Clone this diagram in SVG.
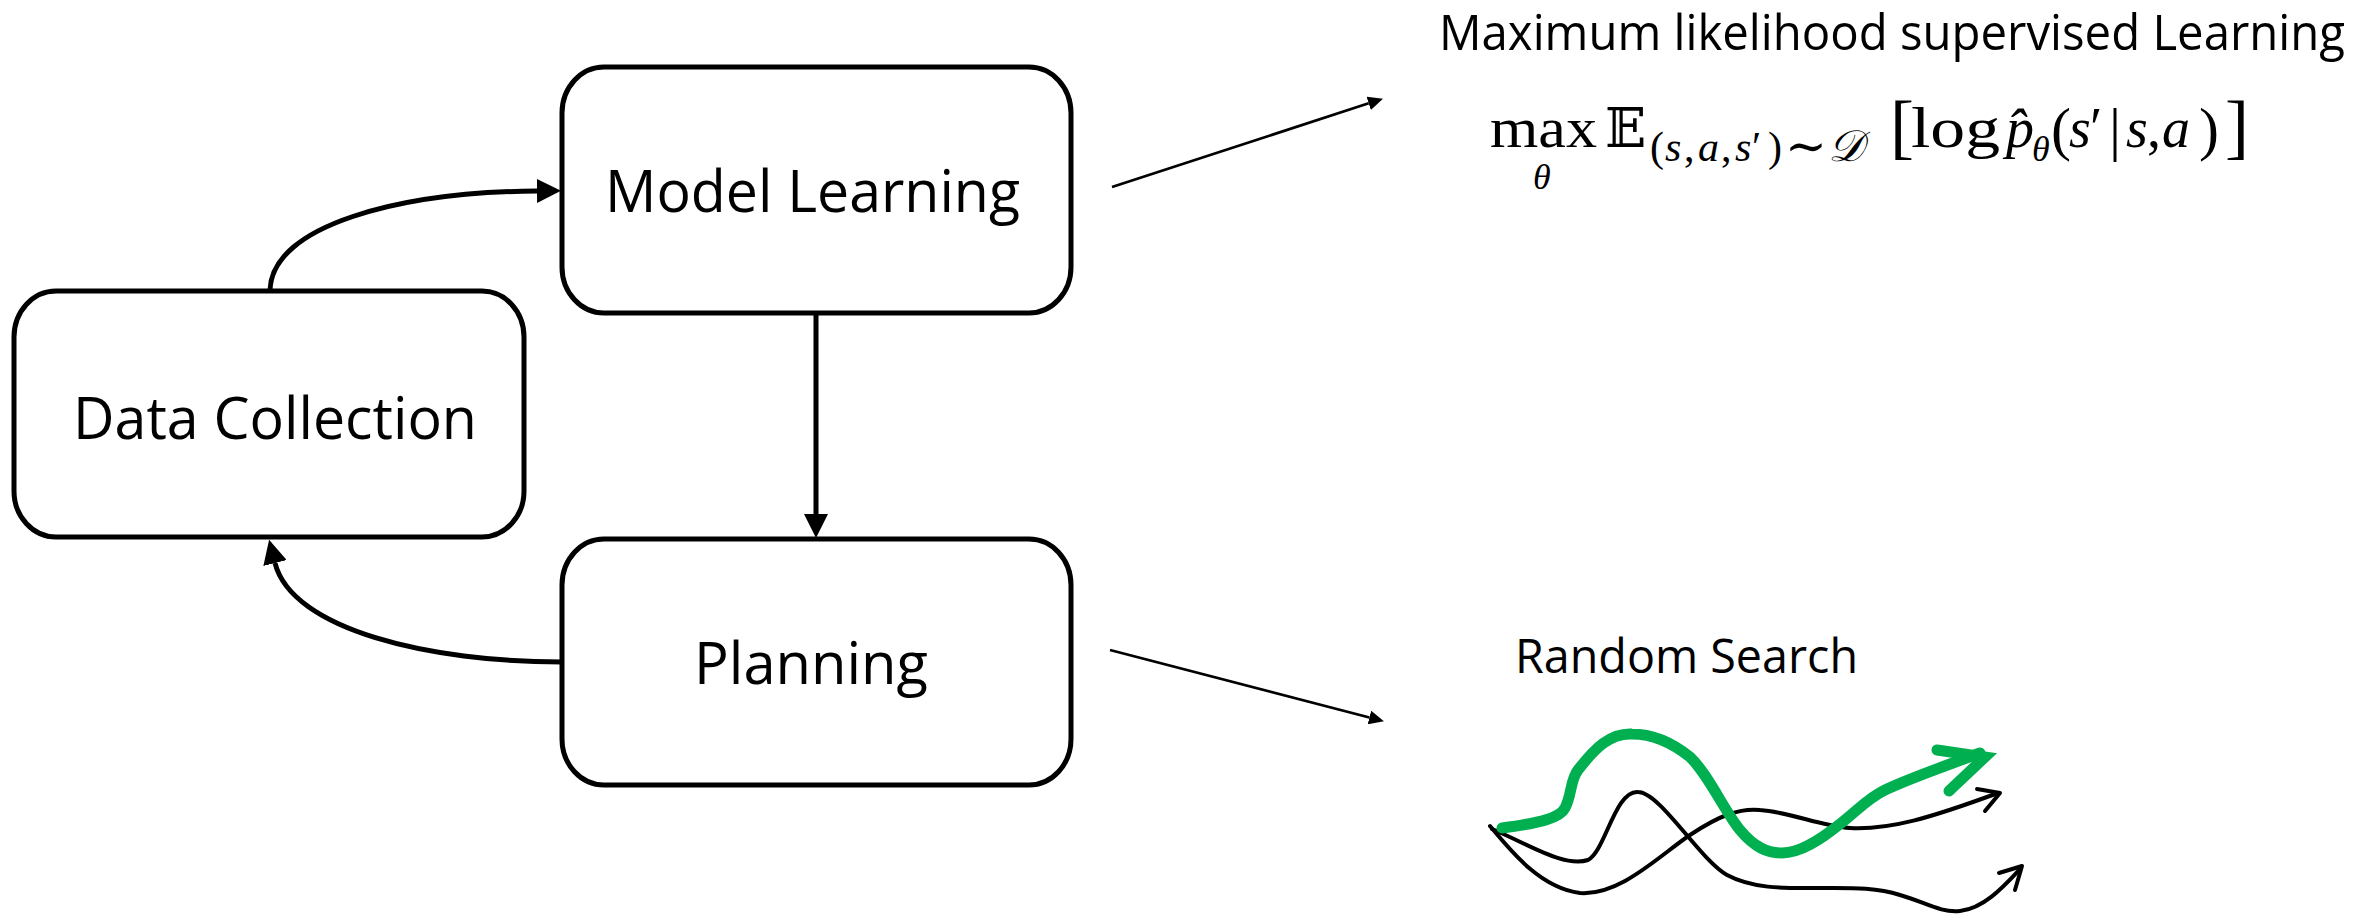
<svg xmlns="http://www.w3.org/2000/svg" width="2377" height="916" viewBox="0 0 2377 916">
  <style>
    .box { fill: #ffffff; stroke: #000000; stroke-width: 5; }
    .label { font-family: "Open Sans", "Liberation Sans", sans-serif; font-size: 59px; fill: #000000; }
    .note { font-family: "Open Sans", "Liberation Sans", sans-serif; fill: #000000; }
    .flow { fill: none; stroke: #000000; stroke-width: 5; }
    .thin { fill: none; stroke: #000000; stroke-width: 2.7; }
    .math { font-family: "Liberation Serif", "DejaVu Serif", serif; fill: #000000; }
    .it { font-style: italic; }
    .path-black { fill: none; stroke: #000000; stroke-width: 4; stroke-linecap: round; stroke-linejoin: round; }
    .path-green { fill: none; stroke: #00B050; stroke-width: 11; stroke-linecap: round; stroke-linejoin: miter; }
  </style>
  <defs>
    <marker id="head" markerUnits="userSpaceOnUse" markerWidth="26" markerHeight="24" refX="0" refY="12" orient="auto">
      <path d="M0,0 L24,12 L0,24 z" fill="#000000"/>
    </marker>
    <marker id="head-small" markerUnits="userSpaceOnUse" markerWidth="16" markerHeight="14" refX="0" refY="7" orient="auto">
      <path d="M0,0 L15,7 L0,14 z" fill="#000000"/>
    </marker>
  </defs>

  <rect width="2377" height="916" fill="#ffffff"/>

  <!-- process nodes -->
  <g id="node-data-collection">
    <rect class="box" x="14" y="291" width="510" height="246" rx="42" ry="46"/>
    <text class="label" x="73" y="439" textLength="404" lengthAdjust="spacingAndGlyphs">Data Collection</text>
  </g>
  <g id="node-model-learning">
    <rect class="box" x="562" y="67" width="509" height="246" rx="42" ry="46"/>
    <text class="label" x="605" y="212" textLength="415" lengthAdjust="spacingAndGlyphs">Model Learning</text>
  </g>
  <g id="node-planning">
    <rect class="box" x="562" y="539" width="509" height="246" rx="42" ry="46"/>
    <text class="label" x="694" y="684" textLength="234" lengthAdjust="spacingAndGlyphs">Planning</text>
  </g>

  <!-- connectors between the loop stages and to the side notes -->
  <g id="connectors">
    <path class="flow" d="M270,290 C272,225 400,192 537,191" marker-end="url(#head)"/>
    <path class="flow" d="M816,313 L816,514" marker-end="url(#head)"/>
    <path class="flow" d="M562,662 C430,662 292,630 275,563" marker-end="url(#head)"/>
    <path class="thin" d="M1112,187 L1368.7,103.3" marker-end="url(#head-small)"/>
    <path class="thin" d="M1110,650 L1369.4,717.5" marker-end="url(#head-small)"/>
  </g>

  <!-- model learning objective -->
  <g id="note-objective">
    <text class="note" x="1439" y="50" font-size="49" textLength="906" lengthAdjust="spacingAndGlyphs">Maximum likelihood supervised Learning</text>
    <text class="math" font-size="56">
      <tspan x="1490" y="147" textLength="107" lengthAdjust="spacingAndGlyphs">max</tspan>
      <tspan class="it" x="1533" y="189" font-size="36">θ</tspan>
      <tspan x="1605" y="147" font-size="54" font-family="DejaVu Serif, DejaVu Sans, serif">𝔼</tspan>
      <tspan x="1650" y="161" font-size="42">(</tspan>
      <tspan class="it" x="1665" y="161" font-size="42">s</tspan>
      <tspan x="1684" y="161" font-size="42">,</tspan>
      <tspan class="it" x="1698" y="161" font-size="42">a</tspan>
      <tspan x="1721" y="161" font-size="42">,</tspan>
      <tspan class="it" x="1735" y="161" font-size="42">s</tspan>
      <tspan x="1752" y="161" font-size="42">′</tspan>
      <tspan x="1768" y="161" font-size="42">)</tspan>
      <tspan x="1785" y="163" font-size="50">∼</tspan>
      <tspan class="it" x="1828" y="161" font-size="44" font-family="DejaVu Sans, Liberation Serif, serif">𝒟</tspan>
      <tspan x="1890" y="150" font-size="72">[</tspan>
      <tspan x="1911" y="147" textLength="89" lengthAdjust="spacingAndGlyphs">log</tspan>
      <tspan class="it" x="2006" y="147">p̂</tspan>
      <tspan class="it" x="2032" y="161" font-size="36">θ</tspan>
      <tspan x="2051" y="149" font-size="60">(</tspan>
      <tspan class="it" x="2069" y="147">s</tspan>
      <tspan x="2090" y="147">′</tspan>
      <tspan x="2109" y="149" font-size="60">|</tspan>
      <tspan class="it" x="2126" y="147">s</tspan>
      <tspan x="2147" y="147">,</tspan>
      <tspan class="it" x="2162" y="147">a</tspan>
      <tspan x="2199" y="149" font-size="60">)</tspan>
      <tspan x="2225" y="150" font-size="72">]</tspan>
    </text>
  </g>

  <!-- planning by random search -->
  <g id="note-random-search">
    <text class="note" x="1515" y="673" font-size="48" textLength="343" lengthAdjust="spacingAndGlyphs">Random Search</text>
    <path class="path-black" d="M1490,826 C1510,850 1540,888 1580,893 C1620,896 1660,855 1690,835 C1720,815 1740,808 1760,810 C1790,812 1820,826 1850,828 C1890,830 1930,818 1998,793"/>
    <path class="path-black" d="M1977,789 L2000,793 L1985,811"/>
    <path class="path-black" d="M1492,829 C1530,845 1565,868 1588,860 C1605,852 1615,790 1638,792 C1660,792 1700,860 1727,875 C1755,890 1790,888 1820,888 C1850,888 1875,887 1900,895 C1925,902 1940,913 1960,911 C1985,908 2005,885 2021,868"/>
    <path class="path-black" d="M1999,873 L2022,866 L2015,890"/>
    <path class="path-green" d="M1502,828 C1540,823 1560,818 1565,808 C1572,795 1570,780 1578,770 C1595,748 1610,733 1632,734 C1655,734 1675,745 1690,757 C1708,774 1725,812 1740,830 C1755,848 1768,853 1782,853 C1800,853 1820,840 1840,824 C1858,810 1868,798 1885,790 C1910,778 1940,768 1980,753"/>
    <path class="path-green" d="M1937,750 L1985,757 L1949,791"/>
  </g>
</svg>
